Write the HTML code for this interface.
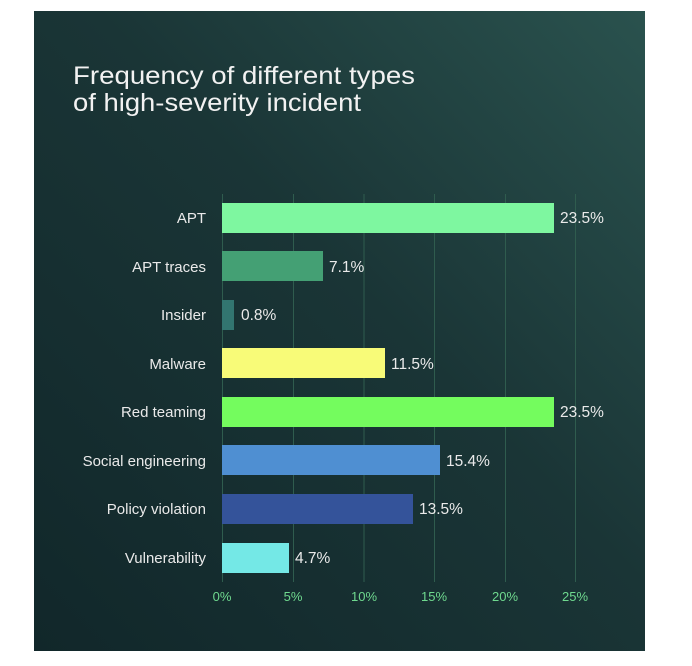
<!DOCTYPE html>
<html><head><style>
html,body{margin:0;padding:0;background:#fff;width:692px;height:666px;overflow:hidden}
svg{display:block;font-family:"Liberation Sans",sans-serif}
</style></head><body>
<svg width="692" height="666" viewBox="0 0 692 666">
<defs>
<linearGradient id="bg" x1="0" y1="1" x2="1" y2="0">
<stop offset="0" stop-color="#11272a"/>
<stop offset="0.55" stop-color="#1a3536"/>
<stop offset="1" stop-color="#2a524e"/>
</linearGradient>
</defs>
<rect x="34" y="11" width="611" height="640" fill="url(#bg)"/>
<text x="73" y="84" font-size="25" fill="#f2f2f2" textLength="342" lengthAdjust="spacingAndGlyphs">Frequency of different types</text>
<text x="73" y="111" font-size="25" fill="#f2f2f2" textLength="288" lengthAdjust="spacingAndGlyphs">of high-severity incident</text>
<g stroke="#2f5c4e" stroke-width="1">
<line x1="222.5" y1="194" x2="222.5" y2="582"/>
<line x1="293.5" y1="194" x2="293.5" y2="582"/>
<line x1="364" y1="194" x2="364" y2="582"/>
<line x1="434.5" y1="194" x2="434.5" y2="582"/>
<line x1="505.5" y1="194" x2="505.5" y2="582"/>
<line x1="575.5" y1="194" x2="575.5" y2="582"/>
</g>
<g font-size="15" fill="#eaeaea" text-anchor="end">
<text x="206" y="223">APT</text>
<text x="206" y="272">APT traces</text>
<text x="206" y="320">Insider</text>
<text x="206" y="369">Malware</text>
<text x="206" y="417">Red teaming</text>
<text x="206" y="466">Social engineering</text>
<text x="206" y="514">Policy violation</text>
<text x="206" y="563">Vulnerability</text>
</g>
<rect x="222" y="203" width="332" height="30" fill="#7ef7a0"/>
<rect x="222" y="251" width="101" height="30" fill="#44a074"/>
<rect x="222" y="300" width="12" height="30" fill="#327570"/>
<rect x="222" y="348" width="163" height="30" fill="#f8fb78"/>
<rect x="222" y="397" width="332" height="30" fill="#74fc5e"/>
<rect x="222" y="445" width="218" height="30" fill="#4f8fd2"/>
<rect x="222" y="494" width="191" height="30" fill="#34539a"/>
<rect x="222" y="543" width="67" height="30" fill="#74e8e6"/>
<g font-size="15.5" fill="#eaeaea">
<text x="560" y="223">23.5%</text>
<text x="329" y="272">7.1%</text>
<text x="241" y="320">0.8%</text>
<text x="391" y="369">11.5%</text>
<text x="560" y="417">23.5%</text>
<text x="446" y="466">15.4%</text>
<text x="419" y="514">13.5%</text>
<text x="295" y="563">4.7%</text>
</g>
<g font-size="13" fill="#6fd98f" text-anchor="middle">
<text x="222" y="601">0%</text>
<text x="293" y="601">5%</text>
<text x="364" y="601">10%</text>
<text x="434" y="601">15%</text>
<text x="505" y="601">20%</text>
<text x="575" y="601">25%</text>
</g>
</svg>
</body></html>
